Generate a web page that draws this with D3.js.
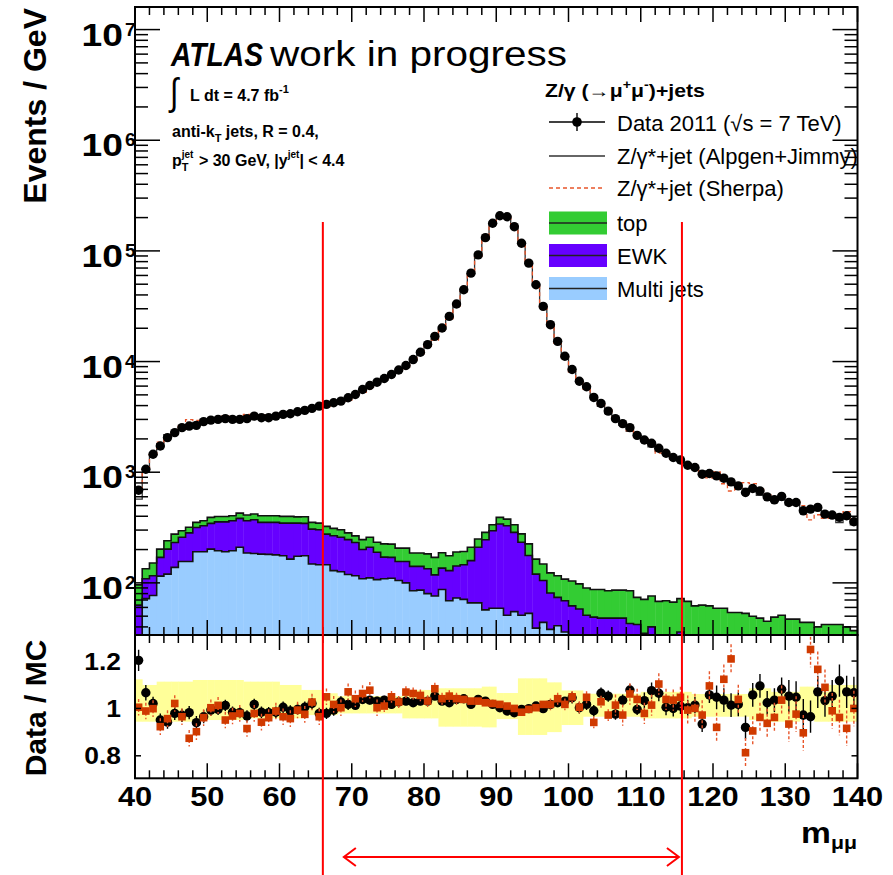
<!DOCTYPE html>
<html>
<head>
<meta charset="utf-8">
<script src="https://cdn.jsdelivr.net/npm/d3@7"></script>
<style>
  html, body { margin: 0; padding: 0; background: #fff; }
  svg { display: block; font-family: "Liberation Sans", Arial, Helvetica, sans-serif; }
  text { white-space: pre; }
</style>
</head>
<body>
<svg id="chart" width="893" height="875"></svg>
<script>
// ---- binning: 1 GeV bins of the dimuon mass, 40-140 GeV ----
const massMin = 40, massMax = 140, binWidth = 1;
const binLow = d3.range(massMin, massMax, binWidth);

// ---- data, events / GeV ----
const dataEvents = [688,1064,1453,1726,2055,2279,2527,2613,2651,2864,
  2958,3001,3047,3001,3001,3047,3215,3110,3110,3215,
  3330,3379,3522,3619,3772,3957,4099,4246,4389,4710,
  5043,5594,6078,6510,7028,7636,8381,9204,10424,12130,
  14230,16900,20120,25600,33100,44530,62960,92040,131800,177600,
  208000,203700,165500,117300,77490,49400,31500,21540,15230,11160,
  8472,6645,5918,4740,4184,3567,3047,2747,2527,2154,
  1954,1825,1645,1484,1357,1291,1156,1102,959,973,
  926,883,818,753,656,713,678,599,563,604,
  533,533,448,464,481,418,410,391,404,357];

// ---- backgrounds (stacked: multi jets, EWK, top) ----
const multiJets = [20,72,77,115,120,138,156,156,191,191,
  202,195,191,195,210,186,184,182,181,179,
  176,164,174,176,148,146,146,129,126,119,
  116,109,111,107,109,110,105,100,85,86,
  80,76,87,69,73,71,66,66,57,59,
  59,51,55,51,53,39,44,38,41,36,
  33,25,22,20,18,16,15,14,13,12,
  11,10,9,8,8,7,7,6,6,5,
  5,5,4,4,4,4,3,3,3,3,
  3,2,2,2,2,2,2,2,2,2];
const ewk = [43,37,39,55,82,94,102,127,126,137,
  143,161,165,169,173,178,188,170,171,173,
  171,183,173,169,158,156,130,138,132,127,
  116,91,99,82,62,60,51,56,56,55,
  54,42,49,60,69,75,93,144,188,237,
  281,277,231,182,124,81,61,43,33,33,
  29,33,29,29,30,32,33,34,30,30,
  24,30,21,20,20,29,19,18,17,17,
  16,16,15,15,14,14,13,13,12,12,
  12,11,11,11,10,10,10,9,9,9];
const topQuark = [33,25,35,32,38,44,38,35,35,36,
  46,42,42,40,44,46,47,52,52,52,
  52,52,48,51,46,45,48,44,44,37,
  34,46,48,44,54,54,50,50,45,45,
  49,52,51,47,48,46,51,39,41,39,
  51,49,49,44,48,44,43,42,42,39,
  42,40,39,38,39,37,38,38,42,32,
  36,36,38,41,39,36,42,38,40,40,
  38,38,35,35,35,32,32,29,34,36,
  32,34,31,31,28,30,30,31,29,26];

// ---- Data / MC ratios ----
const ratioAlpgen = [1.203,1.066,1.021,0.951,0.942,0.979,0.971,0.982,0.940,0.965,
  0.993,0.996,1.013,0.984,0.982,0.968,1.017,0.984,0.982,0.984,
  1.005,0.989,0.996,1.005,1.021,0.979,0.979,0.993,1.027,1.017,
  1.013,1.038,1.035,1.031,1.035,1.017,1.027,1.031,1.024,1.031,
  1.031,1.052,1.031,1.024,1.038,1.041,1.017,1.038,1.031,1.017,
  1.003,0.989,0.982,0.996,0.999,1.010,0.999,1.017,1.024,1.031,
  1.045,1.003,1.017,0.990,1.064,1.052,0.976,1.035,1.078,0.996,
  1.033,1.075,1.064,1.005,1.000,1.010,1.003,1.014,0.934,1.057,
  1.047,1.035,1.014,1.017,0.920,1.057,1.095,1.024,1.035,1.081,
  1.052,1.047,0.972,0.965,1.070,1.033,1.052,1.117,1.070,1.066];
const ratioAlpgenErr = [0.045,0.033,0.028,0.028,0.028,0.028,0.028,0.028,0.028,0.028,
  0.024,0.024,0.024,0.024,0.024,0.024,0.024,0.024,0.024,0.024,
  0.024,0.024,0.024,0.024,0.024,0.024,0.024,0.024,0.024,0.024,
  0.018,0.018,0.018,0.018,0.018,0.018,0.018,0.018,0.018,0.018,
  0.010,0.010,0.010,0.010,0.010,0.010,0.010,0.010,0.010,0.010,
  0.010,0.010,0.010,0.010,0.010,0.010,0.010,0.010,0.010,0.010,
  0.024,0.024,0.024,0.024,0.024,0.024,0.024,0.024,0.024,0.024,
  0.034,0.034,0.034,0.034,0.034,0.034,0.034,0.034,0.034,0.034,
  0.050,0.050,0.050,0.050,0.050,0.050,0.050,0.050,0.050,0.050,
  0.068,0.068,0.068,0.068,0.068,0.068,0.068,0.068,0.068,0.068];
const ratioSherpa = [1.005,0.989,0.999,0.923,0.957,1.021,0.965,0.874,0.902,0.961,
  1.003,1.013,0.951,0.968,0.979,0.915,0.979,0.942,0.961,0.989,
  0.965,0.957,0.993,0.975,1.027,0.965,1.049,1.017,1.003,1.070,
  1.041,1.063,1.077,1.003,1.010,1.049,1.027,1.069,1.063,1.055,
  1.031,1.083,1.041,1.052,1.041,1.038,1.031,1.031,1.024,1.021,
  1.017,1.010,1.000,0.984,0.996,1.003,1.017,1.017,1.041,1.017,
  1.049,1.005,1.047,0.941,1.028,0.972,1.014,0.972,1.061,1.038,
  0.979,1.014,1.103,1.038,1.035,1.047,0.993,1.000,0.972,1.095,
  0.920,1.123,1.209,1.038,0.813,0.905,0.962,0.937,0.962,1.035,
  0.934,0.976,0.897,1.249,1.165,1.089,0.990,0.962,0.916,1.000];
const ratioSherpaErr = [0.035,0.035,0.035,0.035,0.035,0.035,0.035,0.035,0.035,0.035,
  0.035,0.035,0.035,0.035,0.035,0.035,0.035,0.035,0.035,0.035,
  0.035,0.035,0.035,0.035,0.035,0.035,0.035,0.035,0.035,0.035,
  0.035,0.035,0.035,0.035,0.025,0.025,0.025,0.025,0.025,0.025,
  0.025,0.025,0.025,0.025,0.025,0.012,0.012,0.012,0.012,0.012,
  0.012,0.012,0.012,0.012,0.012,0.012,0.012,0.025,0.025,0.025,
  0.025,0.025,0.025,0.025,0.025,0.025,0.045,0.045,0.045,0.045,
  0.045,0.045,0.045,0.045,0.045,0.045,0.062,0.062,0.062,0.062,
  0.062,0.062,0.062,0.062,0.062,0.062,0.062,0.062,0.062,0.062,
  0.075,0.075,0.075,0.075,0.075,0.075,0.075,0.075,0.075,0.075];

// ---- MC uncertainty band on the ratio ----
const bandHigh = [1.123,1.099,1.099,1.113,1.113,1.113,1.113,1.113,1.12,1.12,
  1.12,1.12,1.12,1.12,1.12,1.113,1.113,1.113,1.113,1.113,
  1.099,1.099,1.099,1.078,1.078,1.078,1.064,1.064,1.052,1.052,
  1.052,1.052,1.052,1.052,1.052,1.052,1.052,1.078,1.078,1.078,
  1.078,1.078,1.085,1.085,1.085,1.085,1.085,1.085,1.092,1.092,
  1.065,1.065,1.065,1.127,1.127,1.127,1.127,1.11,1.11,1.076,
  1.076,1.076,1.062,1.062,1.062,1.062,1.062,1.062,1.062,1.062,
  1.07,1.07,1.07,1.07,1.07,1.07,1.07,1.061,1.061,1.061,
  1.061,1.061,1.061,1.061,1.061,1.085,1.085,1.085,1.07,1.07,
  1.07,1.07,1.092,1.092,1.07,1.07,1.099,1.099,1.099,1.099];
const bandLow = [0.944,0.944,0.944,0.944,0.944,0.944,0.944,0.944,0.951,0.951,
  0.951,0.951,0.951,0.951,0.951,0.958,0.958,0.958,0.958,0.958,
  0.958,0.958,0.958,0.972,0.972,0.972,0.972,0.972,0.979,0.979,
  0.979,0.979,0.979,0.979,0.979,0.979,0.979,0.958,0.958,0.958,
  0.958,0.958,0.923,0.923,0.923,0.923,0.923,0.923,0.92,0.92,
  0.955,0.955,0.955,0.888,0.888,0.888,0.888,0.9,0.9,0.93,
  0.93,0.93,0.965,0.965,0.965,0.965,0.965,0.965,0.965,0.965,
  0.958,0.958,0.958,0.958,0.958,0.958,0.958,0.965,0.965,0.965,
  0.965,0.965,0.965,0.965,0.965,0.951,0.951,0.951,0.944,0.944,
  0.944,0.944,0.965,0.965,0.944,0.944,0.944,0.944,0.944,0.944];

// ---- axis ticks and the mass window ----
const xTickLabels = [40, 50, 60, 70, 80, 90, 100, 110, 120, 130, 140];
const yDecades = [2, 3, 4, 5, 6, 7];
const ratioTicks = [0.8, 1, 1.2];
const ratioTickLabels = ["0.8", "1", "1.2"];
const massWindow = [66, 115.7];

// ---- colours ----
const C = {
  top: "#33cc33", ewk: "#6600ff", mj: "#99ccff",
  band: "#ffff99", sherpa: "#e8552a", sherpaMarker: "#d03a00", window: "#ff0000"
};

// ---- geometry ----
const L = 135, R = 857.5, mainTop = 7, mainBottom = 635, ratioBottom = 778.3;

const svg = d3.select("#chart");
const x = d3.scaleLinear().domain([massMin, massMax]).range([L, R]);
const y = d3.scaleLog().domain([33.8, 1.6e7]).range([mainBottom, mainTop]);
const yr = d3.scaleLinear().domain([0.705, 1.31]).range([ratioBottom, mainBottom]);

const defs = svg.append("defs");
defs.append("clipPath").attr("id", "clipMain").append("rect")
  .attr("x", L).attr("y", mainTop).attr("width", R - L).attr("height", mainBottom - mainTop);
defs.append("clipPath").attr("id", "clipRatio").append("rect")
  .attr("x", L).attr("y", mainBottom).attr("width", R - L).attr("height", ratioBottom - mainBottom);

// ---------- main panel ----------
const gMain = svg.append("g").attr("clip-path", "url(#clipMain)");

const cumMJ = multiJets.slice();
const cumEWK = multiJets.map((v, i) => v + ewk[i]);
const cumTop = cumEWK.map((v, i) => v + topQuark[i]);
const floorVal = 1; // below the axis range; clipped

const layers = [
  { hi: cumTop, lo: cumEWK, color: C.top },
  { hi: cumEWK, lo: cumMJ, color: C.ewk },
  { hi: cumMJ, lo: null, color: C.mj }
];
const stepLine = d3.line().curve(d3.curveStepAfter).x(d => x(d[0])).y(d => y(Math.max(d[1], floorVal)));
function stepPoints(vals) {
  const pts = binLow.map((b, i) => [b, vals[i]]);
  pts.push([massMax, vals[vals.length - 1]]);
  return pts;
}

// fills (drawn from the bottom of each layer up to its top)
layers.forEach(layer => {
  gMain.append("g").selectAll("rect").data(binLow).join("rect")
    .attr("x", d => x(d))
    .attr("width", d => x(d + binWidth) - x(d) + 0.4)
    .attr("y", (d, i) => y(Math.max(layer.hi[i], floorVal)))
    .attr("height", (d, i) => {
      const lo = layer.lo ? y(Math.max(layer.lo[i], floorVal)) : mainBottom + 5;
      return Math.max(0, lo - y(Math.max(layer.hi[i], floorVal)));
    })
    .attr("fill", layer.color);
});
// outlines of each stacked histogram
[cumTop, cumEWK, cumMJ].forEach(vals => {
  gMain.append("path").attr("d", stepLine(stepPoints(vals)))
    .attr("fill", "none").attr("stroke", "#111").attr("stroke-width", 1.6);
});

// MC predictions for the signal + background
const alpgenTotal = dataEvents.map((v, i) => v / ratioAlpgen[i]);
const sherpaTotal = dataEvents.map((v, i) => v / ratioSherpa[i]);
gMain.append("path").attr("d", stepLine(stepPoints(alpgenTotal)))
  .attr("fill", "none").attr("stroke", "#333").attr("stroke-width", 1.3);
gMain.append("path").attr("d", stepLine(stepPoints(sherpaTotal)))
  .attr("fill", "none").attr("stroke", C.sherpa).attr("stroke-width", 1.3)
  .attr("stroke-dasharray", "4,3");

// data points
gMain.append("g").selectAll("circle").data(binLow).join("circle")
  .attr("cx", d => x(d + binWidth / 2))
  .attr("cy", (d, i) => y(dataEvents[i]))
  .attr("r", 4.7).attr("fill", "#000");

// ---------- ratio panel ----------
const gRatio = svg.append("g").attr("clip-path", "url(#clipRatio)");
gRatio.append("g").selectAll("rect").data(binLow).join("rect")
  .attr("x", d => x(d))
  .attr("width", d => x(d + binWidth) - x(d) + 0.4)
  .attr("y", (d, i) => yr(bandHigh[i]))
  .attr("height", (d, i) => yr(bandLow[i]) - yr(bandHigh[i]))
  .attr("fill", C.band);

// Data / Alpgen: black points with solid error bars
gRatio.append("g").selectAll("line").data(binLow).join("line")
  .attr("x1", d => x(d + binWidth / 2)).attr("x2", d => x(d + binWidth / 2))
  .attr("y1", (d, i) => yr(ratioAlpgen[i] + ratioAlpgenErr[i]))
  .attr("y2", (d, i) => yr(ratioAlpgen[i] - ratioAlpgenErr[i]))
  .attr("stroke", "#000").attr("stroke-width", 1.4);
gRatio.append("g").selectAll("circle").data(binLow).join("circle")
  .attr("cx", d => x(d + binWidth / 2))
  .attr("cy", (d, i) => yr(ratioAlpgen[i]))
  .attr("r", 4.7).attr("fill", "#000");

// Data / Sherpa: orange squares with dashed error bars
gRatio.append("g").selectAll("line").data(binLow).join("line")
  .attr("x1", d => x(d + binWidth / 2)).attr("x2", d => x(d + binWidth / 2))
  .attr("y1", (d, i) => yr(ratioSherpa[i] + ratioSherpaErr[i]))
  .attr("y2", (d, i) => yr(ratioSherpa[i] - ratioSherpaErr[i]))
  .attr("stroke", C.sherpa).attr("stroke-width", 1.4).attr("stroke-dasharray", "3,2");
gRatio.append("g").selectAll("rect").data(binLow).join("rect")
  .attr("x", d => x(d + binWidth / 2) - 3.8)
  .attr("y", (d, i) => yr(ratioSherpa[i]) - 3.8)
  .attr("width", 7.6).attr("height", 7.6)
  .attr("fill", C.sherpaMarker);

// ---------- frames and ticks ----------
const gAx = svg.append("g").attr("stroke", "#000").attr("fill", "none");
gAx.append("rect").attr("x", L).attr("y", mainTop).attr("width", R - L).attr("height", mainBottom - mainTop).attr("stroke-width", 2);
gAx.append("rect").attr("x", L).attr("y", mainBottom).attr("width", R - L).attr("height", ratioBottom - mainBottom).attr("stroke-width", 2);

const xMinorTicks = d3.range(massMin, massMax + 0.001, 2);
function xTicks(yBase, dir) {
  xMinorTicks.forEach(v => {
    const len = (v % 10 === 0) ? 15 : 8;
    gAx.append("line").attr("x1", x(v)).attr("x2", x(v))
      .attr("y1", yBase).attr("y2", yBase + dir * len).attr("stroke-width", 1.5);
  });
}
xTicks(mainTop, 1);
xTicks(mainBottom, -1);
xTicks(mainBottom, 1);
xTicks(ratioBottom, -1);

// log ticks on the main panel
const [yLo, yHi] = y.domain();
for (let e = 1; e <= 7; e++) {
  for (let m = 1; m <= 9; m++) {
    const v = m * Math.pow(10, e);
    if (v < yLo || v > yHi) continue;
    const len = m === 1 ? 25 : 13;
    gAx.append("line").attr("x1", L).attr("x2", L + len).attr("y1", y(v)).attr("y2", y(v)).attr("stroke-width", 1.5);
    gAx.append("line").attr("x1", R).attr("x2", R - len).attr("y1", y(v)).attr("y2", y(v)).attr("stroke-width", 1.5);
  }
}
ratioTicks.forEach(v => {
  gAx.append("line").attr("x1", L).attr("x2", L + 6).attr("y1", yr(v)).attr("y2", yr(v)).attr("stroke-width", 1.5);
  gAx.append("line").attr("x1", R).attr("x2", R - 6).attr("y1", yr(v)).attr("y2", yr(v)).attr("stroke-width", 1.5);
});

// ---------- tick labels and axis titles ----------
const gT = svg.append("g").attr("fill", "#000");
// text stretched horizontally about its anchor point
function stext(px, py, txt, size, sx, anchor, weight) {
  return gT.append("text").attr("transform", `translate(${px},${py}) scale(${sx},1)`)
    .attr("text-anchor", anchor || "start").attr("font-size", size)
    .attr("font-weight", weight || "normal").text(txt);
}
xTickLabels.forEach(v => stext(x(v), 806, v, 28, 1.1, "middle", "bold"));
yDecades.forEach(e => {
  const yy = y(Math.pow(10, e));
  stext(123, yy + 16, "10", 31, 1.2, "end", "bold");
  stext(125, yy + 6, String(e), 19, 1.0, "start", "bold");
});
ratioTicks.forEach((v, i) => stext(121, yr(v) + 8.5, ratioTickLabels[i], 24, 1.1, "end", "bold"));

gT.append("text").attr("transform", "translate(46,8) rotate(-90)").attr("text-anchor", "end")
  .attr("font-size", 32).attr("font-weight", "bold").text("Events / GeV");
gT.append("text").attr("transform", "translate(46,708) rotate(-90)").attr("text-anchor", "middle")
  .attr("font-size", 30).attr("font-weight", "bold").text("Data / MC");

const mLabel = gT.append("text").attr("transform", "translate(857,843) scale(1.12,1)").attr("text-anchor", "end")
  .attr("font-size", 30).attr("font-weight", "bold");
mLabel.append("tspan").text("m");
mLabel.append("tspan").attr("font-size", 19).attr("dy", 6).text("μμ");

// rich text helper: pieces placed one after the other along a baseline
function rich(g, x0, y0, parts, base) {
  let cx = x0, pending = 0;
  parts.forEach(p => {
    const t = g.append("text").attr("x", cx).attr("y", y0 + (p.dy || 0))
      .attr("font-size", p.size || base.size)
      .attr("font-weight", p.weight || base.weight || "normal")
      .attr("font-style", p.style || "normal")
      .text(p.t);
    const w = t.node().getComputedTextLength();
    if (p.hold) { pending = Math.max(pending, w); }
    else { cx += Math.max(w, pending) + (p.gap || 0); pending = 0; }
  });
}

// experiment label and selection text
gT.append("text").attr("x", 171).attr("y", 66).attr("font-size", 33)
  .attr("font-weight", "bold").attr("font-style", "italic")
  .attr("textLength", 92).attr("lengthAdjust", "spacingAndGlyphs").text("ATLAS");
gT.append("text").attr("x", 270).attr("y", 66).attr("font-size", 35)
  .attr("textLength", 297).attr("lengthAdjust", "spacingAndGlyphs").text("work in progress");
gT.append("text").attr("transform", "translate(170,105) scale(0.8,1)").attr("font-size", 38).text("∫");
rich(gT, 190, 101, [{ t: "L dt = 4.7 fb" }, { t: "-1", size: 11, dy: -8 }], { size: 16, weight: "bold" });
rich(gT, 172, 137, [{ t: "anti-k" }, { t: "T", size: 11, dy: 5 }, { t: " jets, R = 0.4," }], { size: 16, weight: "bold" });
rich(gT, 172, 166, [
  { t: "p" }, { t: "jet", size: 10, dy: -8, hold: true }, { t: "T", size: 11, dy: 5, gap: 1 },
  { t: " > 30 GeV, |y" }, { t: "jet", size: 10, dy: -8 }, { t: "| < 4.4" }
], { size: 16, weight: "bold" });

// ---------- legend ----------
const lgX0 = 549, lgX1 = 605, lgText = 617;
const gHead = svg.append("g").attr("transform", "translate(545,0) scale(1.18,1) translate(-545,0)");
rich(gHead, 545, 97, [
  { t: "Z/γ (→μ" }, { t: "+", size: 12, dy: -8 }, { t: "μ" }, { t: "-", size: 12, dy: -8 }, { t: ")+jets" }
], { size: 18, weight: "bold" });

const gL = svg.append("g");
// data entry
gL.append("line").attr("x1", lgX0).attr("x2", lgX1).attr("y1", 122).attr("y2", 122).attr("stroke", "#000").attr("stroke-width", 1.4);
gL.append("line").attr("x1", 577).attr("x2", 577).attr("y1", 113).attr("y2", 131).attr("stroke", "#000").attr("stroke-width", 1.4);
gL.append("circle").attr("cx", 577).attr("cy", 122).attr("r", 4.8).attr("fill", "#000");
// Alpgen and Sherpa entries
gL.append("line").attr("x1", lgX0).attr("x2", lgX1).attr("y1", 156).attr("y2", 156).attr("stroke", "#333").attr("stroke-width", 1.3);
gL.append("line").attr("x1", lgX0).attr("x2", lgX1).attr("y1", 188).attr("y2", 188).attr("stroke", C.sherpa).attr("stroke-width", 1.3).attr("stroke-dasharray", "4,3");
// filled entries
[[223, C.top], [255.5, C.ewk], [288.5, C.mj]].forEach(([cy, col]) => {
  gL.append("rect").attr("x", lgX0).attr("y", cy - 11.5).attr("width", 58).attr("height", 23).attr("fill", col);
  gL.append("line").attr("x1", lgX0).attr("x2", lgX0 + 58).attr("y1", cy).attr("y2", cy).attr("stroke", "#222").attr("stroke-width", 1.5);
});
const legendTexts = [
  [131, "Data 2011 (√s = 7 TeV)"],
  [164, "Z/γ*+jet (Alpgen+Jimmy)"],
  [196, "Z/γ*+jet (Sherpa)"],
  [231, "top"],
  [263.5, "EWK"],
  [296.5, "Multi jets"]
];
legendTexts.forEach(([yy, t]) => {
  gT.append("text").attr("x", lgText).attr("y", yy).attr("font-size", 22).text(t);
});

// ---------- mass window ----------
const gW = svg.append("g").attr("stroke", C.window).attr("stroke-width", 2).attr("fill", "none");
massWindow.forEach(m => {
  gW.append("line").attr("x1", x(m)).attr("x2", x(m)).attr("y1", 222).attr("y2", 875);
});
const arrowY = 857, ax0 = x(massWindow[0]) + 21, ax1 = x(massWindow[1]) - 3;
gW.append("line").attr("x1", ax0).attr("x2", ax1).attr("y1", arrowY).attr("y2", arrowY);
gW.append("path").attr("d", `M${ax0 + 12},${arrowY - 9} L${ax0},${arrowY} L${ax0 + 12},${arrowY + 9}`);
gW.append("path").attr("d", `M${ax1 - 12},${arrowY - 9} L${ax1},${arrowY} L${ax1 - 12},${arrowY + 9}`);
</script>
</body>
</html>
